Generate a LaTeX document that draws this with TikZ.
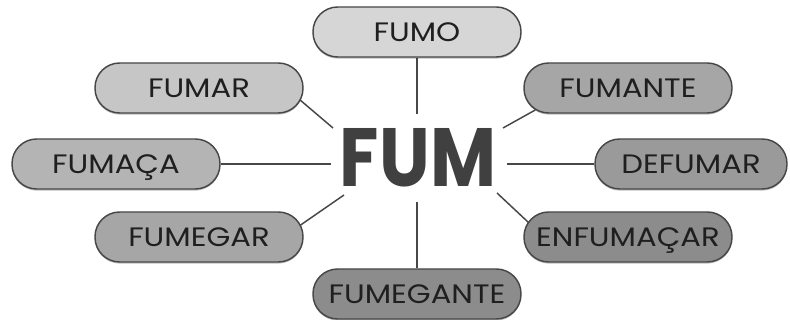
\documentclass[tikz,border=0pt]{standalone}
\usepackage{fontspec}
\setmainfont{Poppins}
\newfontfamily\boxfont[FakeStretch=1.15]{Poppins}
\newfontfamily\rootfont[FakeStretch=0.87]{Poppins}
\usetikzlibrary{backgrounds,shadows}
\begin{document}
\begin{tikzpicture}[x=0.75pt,y=-0.75pt,
  wordbox/.style={draw=black!72,line width=1.1pt,rounded corners=18.5pt,
    minimum width=156pt,minimum height=37.5pt,inner sep=0pt,
    text height=14pt,text depth=0pt,
    drop shadow={shadow xshift=0pt,shadow yshift=-1.2pt,opacity=0.25,fill=black},
    text=black!88,font=\boxfont\fontsize{20}{22}\selectfont},
  link/.style={draw=black!72,line width=1.1pt}]
\useasboundingbox (0,0) rectangle (790,320);
\definecolor{g1}{HTML}{D6D6D6}
\definecolor{g2}{HTML}{C6C6C6}
\definecolor{g3}{HTML}{B4B4B4}
\definecolor{g4}{HTML}{A6A6A6}
\definecolor{g5}{HTML}{9A9A9A}
\definecolor{g6}{HTML}{8C8C8C}
% root
\node[text=black!75,font=\rootfont\bfseries\fontsize{62}{62}\selectfont,
  inner sep=0pt,text height=43pt,text depth=0pt] (fum) at (418,158) {FUM};
% derived words
\node[wordbox,fill=g1] (fumo) at (417,32) {FUMO};
\node[wordbox,fill=g2] (fumar) at (199,88) {FUMAR};
\node[wordbox,fill=g4] (fumante) at (628,88) {FUMANTE};
\node[wordbox,fill=g3] (fumaca) at (116,164) {FUMAÇA};
\node[wordbox,fill=g5,minimum width=144pt] (defumar) at (691,164) {DEFUMAR};
\node[wordbox,fill=g4] (fumegar) at (199,237) {FUMEGAR};
\node[wordbox,fill=g6] (enfumacar) at (628,237) {ENFUMAÇAR};
\node[wordbox,fill=g6] (fumegante) at (417,294) {FUMEGANTE};
% inner ends of the spokes
\coordinate (tN) at (417,114);
\coordinate (tNW) at (333,128);
\coordinate (tNE) at (503,128);
\coordinate (tW) at (331,164);
\coordinate (tE) at (507,164);
\coordinate (tSW) at (344,195);
\coordinate (tSE) at (497,193);
\coordinate (tS) at (417,202);
% spokes, drawn behind the boxes
\begin{scope}[on background layer]
\draw[link] (fumo) -- (tN);
\draw[link] ([shift={(-6,10)}]fumar.east) -- (tNW);
\draw[link] ([shift={(12,22)}]fumante.west) -- (tNE);
\draw[link] (fumaca) -- (tW);
\draw[link] (defumar) -- (tE);
\draw[link] ([shift={(-6,-10)}]fumegar.east) -- (tSW);
\draw[link] ([shift={(9,-11)}]enfumacar.west) -- (tSE);
\draw[link] (fumegante) -- (tS);
\end{scope}
\end{tikzpicture}
\end{document}
